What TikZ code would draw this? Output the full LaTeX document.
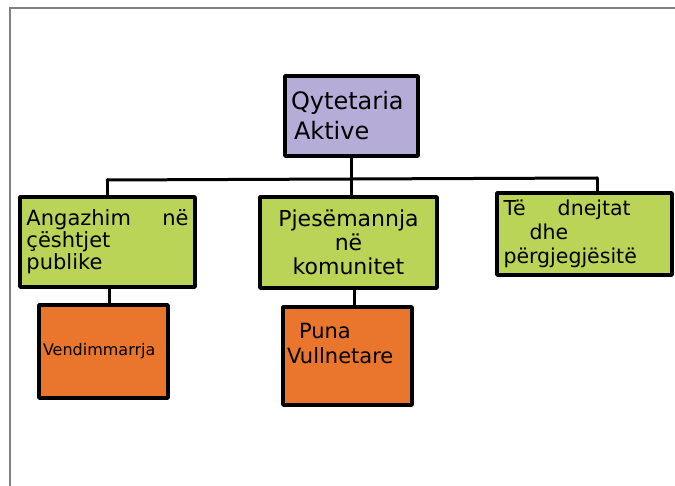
\documentclass[tikz,border=0pt]{standalone}
\usepackage{fontspec}
\setmainfont{DejaVu Sans}
\definecolor{lav}{RGB}{182,172,216}
\definecolor{lime}{RGB}{186,212,88}
\definecolor{orng}{RGB}{233,118,44}
\definecolor{framegray}{RGB}{128,128,128}
\begin{document}
\begin{tikzpicture}[x=1pt,y=-1pt,
  box/.style={draw=black, line width=3.6pt, inner sep=4pt, line join=round, anchor=center},
  topbox/.style={box, fill=lav},
  midbox/.style={box, fill=lime},
  lowbox/.style={box, fill=orng},
  link/.style={draw=black, line width=3pt, line cap=round, line join=round}]
\useasboundingbox (0,0) rectangle (675,486);
\draw[framegray, line width=2pt] (9.5,486) -- (9.5,8.5) -- (675,8.5);

\node[topbox, minimum width=133pt, minimum height=80pt, text width=121pt, align=left,
  font=\fontsize{24}{30}\selectfont] (top) at (351.5,116) {Qytetaria\\\hspace*{3pt}Aktive};

\node[midbox, minimum width=175pt, minimum height=90pt, text width=162pt, align=left,
  font=\fontsize{21}{22}\selectfont] (g1) at (107.5,242) {Angazhim\hfill në\hspace*{2pt}\\çështjet\\publike};
\node[midbox, minimum width=177pt, minimum height=91pt, text width=167pt, align=center,
  font=\fontsize{22}{24}\selectfont] (g2) at (348.5,242.5) {Pjesëmannja\\në\\komunitet};
\node[midbox, minimum width=175pt, minimum height=82pt, text width=162pt, align=left,
  font=\fontsize{20.5}{24}\selectfont] (g3) at (584.5,234) {Të\hspace{32pt}dnejtat\\\hspace*{26pt}dhe\\përgjegjësitë};

\node[lowbox, minimum width=129pt, minimum height=93pt, text width=121pt, align=left,
  font=\fontsize{16}{18}\selectfont] (o1) at (103.5,351.5) {Vendimmarrja};
\node[lowbox, minimum width=129pt, minimum height=98pt, text width=121pt, align=left,
  font=\fontsize{21}{25}\selectfont] (o2) at (347.5,356) {\hspace*{12pt}Puna\\Vullnetare\\\mbox{}};

\coordinate (bus) at (351,179);
\coordinate (busL) at (107,180);
\coordinate (busR) at (597,178);
\coordinate (c1) at (109,300);
\coordinate (c2) at (354,300);
\draw[link] (top.south) -- (top.south |- bus);
\draw[link] (busL) -- (bus) -- (busR);
\draw[link] (busL) -- (busL |- g1.north);
\draw[link] (bus) -- (bus |- g2.north);
\draw[link] (busR) -- (busR |- g3.north);
\draw[link] (c1 |- g1.south) -- (c1 |- o1.north);
\draw[link] (c2 |- g2.south) -- (c2 |- o2.north);
\end{tikzpicture}
\end{document}
